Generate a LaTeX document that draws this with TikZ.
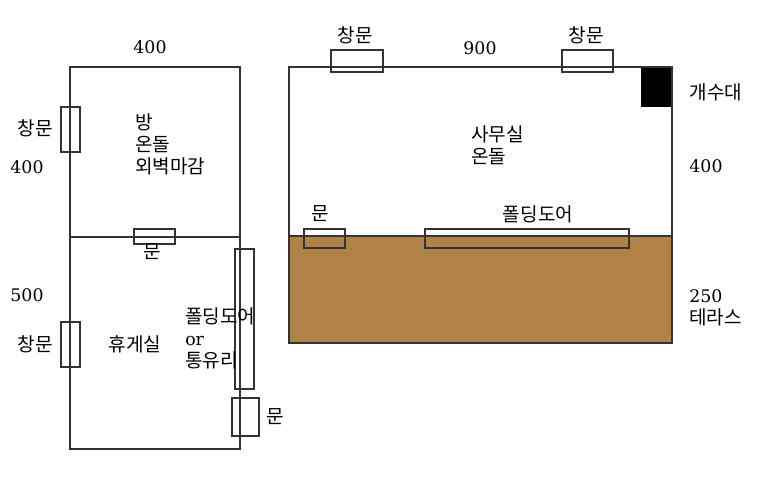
\documentclass[tikz,border=0pt]{standalone}
\usepackage{fontspec}
\setmainfont{Noto Sans CJK KR}
\newfontfamily\numfont{DejaVu Serif}
\usepackage{tikz}
\definecolor{terracecolor}{RGB}{176,130,72}
\tikzset{wall/.style={draw=black!80,line width=1pt}}
\tikzset{opening/.style={draw=black!80,line width=0.8pt}}
\tikzset{room label/.style={inner sep=0pt,align=left,font=\fontsize{14.3}{16.5}\selectfont}}
\tikzset{size label/.style={inner sep=0pt,align=left,font=\numfont\fontsize{13}{16.5}\selectfont}}

\begin{document}
\begin{tikzpicture}[x=0.75pt,y=-0.75pt]
            \useasboundingbox (0,0) rectangle (770,502);

            % terrace and sink
            \fill[terracecolor] (289,236) rectangle (672,343);
            \fill[black] (641,68) rectangle (672,107);

            % walls
            \draw[wall] (70,67) rectangle (240,237);
            \draw[wall] (70,237) rectangle (240,449);
            \draw[wall] (289,67) rectangle (672,236);
            \draw[wall] (289,236) rectangle (672,343);

            % windows and doors
            \draw[opening] (61,107) rectangle (80,152);
            \draw[opening] (134,229) rectangle (175,244);
            \draw[opening] (61,322) rectangle (80,367);
            \draw[opening] (235,249) rectangle (254,389);
            \draw[opening] (232,398) rectangle (259,436);
            \draw[opening] (331,50) rectangle (383,72);
            \draw[opening] (562,50) rectangle (613,72);
            \draw[opening] (304,229) rectangle (345,248);
            \draw[opening] (425,229) rectangle (629,248);

            % left side
            \node[size label] (width1) at (150,47) {400};
            \node[room label] (win1) at (35,128) {창문};
            \node[size label] (depth1) at (27,167) {400};
            \node[room label,anchor=west] (room1) at (135,144) {방\\온돌\\외벽마감};
            \node[room label] (door1) at (152,252) {문};
            \node[size label] (depth2) at (27,295) {500};
            \node[room label] (win2) at (35,344) {창문};
            \node[room label] (room2) at (135,344) {휴게실};
            \node[room label,anchor=west] (fold1) at (185,338) {폴딩도어\\{\numfont\fontsize{13}{16.5}\selectfont or}\\통유리};
            \node[room label] (door2) at (275,417) {문};

            % right side
            \node[room label] (win3) at (355,35) {창문};
            \node[size label] (width2) at (480,48) {900};
            \node[room label] (win4) at (586,35) {창문};
            \node[room label] (sink) at (716,92) {개수대};
            \node[room label,anchor=west] (office) at (471,145) {사무실\\온돌};
            \node[size label] (depth3) at (706,166) {400};
            \node[room label] (door3) at (320,214) {문};
            \node[room label] (fold2) at (538,214) {폴딩도어};
            \node[room label,anchor=west] (terrace) at (689,308) {{\numfont\fontsize{13}{16.5}\selectfont 250}\\테라스};
        \end{tikzpicture}
\end{document}
